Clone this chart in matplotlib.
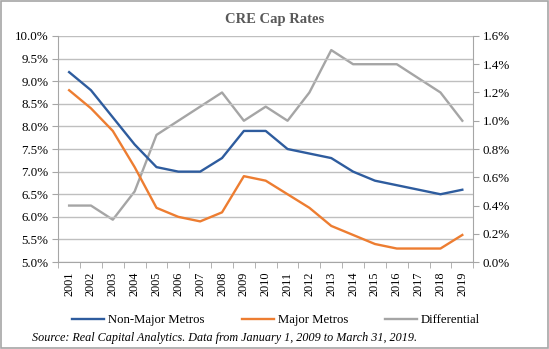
import matplotlib
matplotlib.use("Agg")
import matplotlib.pyplot as plt
from matplotlib.ticker import FuncFormatter, FixedLocator
from matplotlib.patches import Rectangle

plt.rcParams['font.family'] = ['Liberation Serif', 'DejaVu Serif']

years = [str(y) for y in range(2001, 2020)]
non_major = [9.2, 8.8, 8.2, 7.6, 7.1, 7.0, 7.0, 7.3, 7.9, 7.9, 7.5, 7.4, 7.3, 7.0, 6.8, 6.7, 6.6, 6.5, 6.6]
major = [8.8, 8.4, 7.9, 7.1, 6.2, 6.0, 5.9, 6.1, 6.9, 6.8, 6.5, 6.2, 5.8, 5.6, 5.4, 5.3, 5.3, 5.3, 5.6]
differential = [0.4, 0.4, 0.3, 0.5, 0.9, 1.0, 1.1, 1.2, 1.0, 1.1, 1.0, 1.2, 1.5, 1.4, 1.4, 1.4, 1.3, 1.2, 1.0]

blue = '#2E5C9E'
orange = '#ED7D31'
grey = '#A5A5A5'
axis_grey = '#A6A6A6'

fig = plt.figure(figsize=(5.49, 3.49), dpi=100)
ax = fig.add_axes([0.106, 0.249, 0.756, 0.648])
ax2 = ax.twinx()

x = list(range(len(years)))
l1, = ax.plot(x, non_major, color=blue, lw=1.7, label='Non-Major Metros')
l2, = ax.plot(x, major, color=orange, lw=1.7, label='Major Metros')
l3, = ax2.plot(x, differential, color=grey, lw=1.7, label='Differential')
ax.set_zorder(ax2.get_zorder() + 1)
ax.patch.set_visible(False)

ax.set_xlim(-0.5, len(years) - 0.5)
ax.set_ylim(5.0, 10.0)
ax2.set_ylim(0.0, 1.6)
ax.set_yticks([5.0 + 0.5 * i for i in range(11)])
ax2.set_yticks([0.2 * i for i in range(9)])
ax.yaxis.set_major_formatter(FuncFormatter(lambda v, p: f'{v:.1f}%'))
ax2.yaxis.set_major_formatter(FuncFormatter(lambda v, p: f'{v:.1f}%'))

ax.set_xticks(x)
ax.set_xticklabels(years, rotation=90)
ax.tick_params(axis='x', which='major', length=0, pad=7, labelsize=8.8)
ax.xaxis.set_minor_locator(FixedLocator([i - 0.5 for i in range(len(years) + 1)]))
ax.tick_params(axis='x', which='minor', length=4, color=axis_grey)

ax.grid(axis='y', color='#BFBFBF', lw=1.0)
ax.set_axisbelow(True)

for a in (ax, ax2):
    for s in a.spines.values():
        s.set_visible(False)
    a.tick_params(axis='y', length=4, color=axis_grey, labelsize=9.4, pad=3)
ax.spines['left'].set_visible(True)
ax.spines['left'].set_color(axis_grey)
ax.spines['bottom'].set_visible(True)
ax.spines['bottom'].set_color(axis_grey)
ax2.spines['right'].set_visible(True)
ax2.spines['right'].set_color(axis_grey)

fig.text(0.5, 0.945, 'CRE Cap Rates', ha='center', va='center', fontsize=10.5,
         fontweight='bold', color='#595959')

fig.legend([l1, l2, l3], ['Non-Major Metros', 'Major Metros', 'Differential'],
           loc='center', bbox_to_anchor=(0.503, 0.083), ncol=3, frameon=False,
           fontsize=9.2, handlelength=2.5, handletextpad=0.3, columnspacing=2.9)

fig.text(0.058, 0.032, 'Source: Real Capital Analytics. Data from January 1, 2009 to March 31, 2019.',
         ha='left', va='center', fontsize=8.7, style='italic')

fig.patches.append(Rectangle((0.002, 0.003), 0.996, 0.994, transform=fig.transFigure,
                             fill=False, edgecolor='#A6A6A6', lw=1.2))

fig.savefig('out.png', dpi=100)
